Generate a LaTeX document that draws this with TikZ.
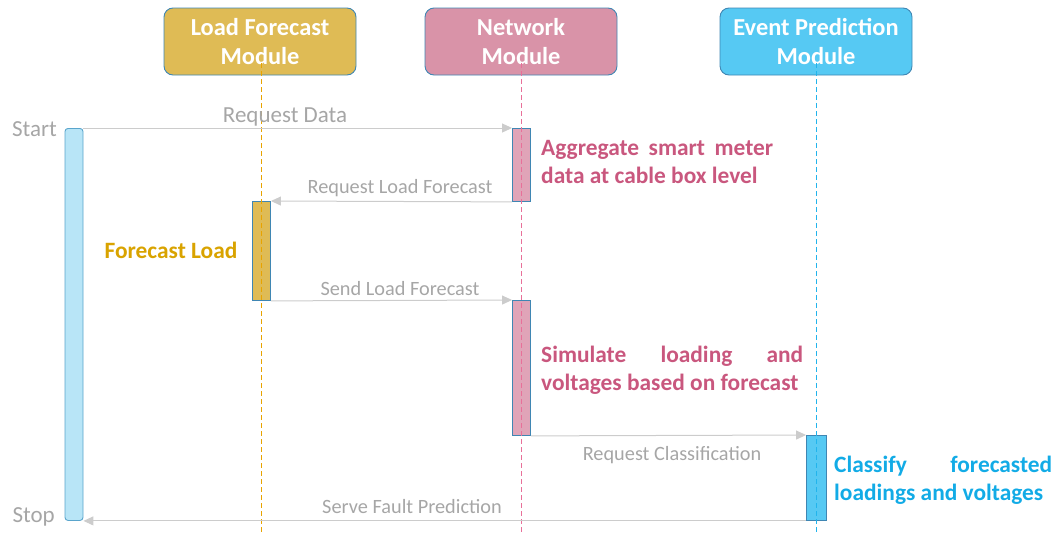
\documentclass[tikz,border=0pt]{standalone}
\usepackage{fontspec}
\setmainfont{Carlito}
\usetikzlibrary{arrows.meta}
\hyphenpenalty=10000
\exhyphenpenalty=10000
\definecolor{lfgold}{HTML}{DFBB55}
\definecolor{lfline}{HTML}{E8A300}
\definecolor{lftext}{HTML}{D9A300}
\definecolor{netpink}{HTML}{D993A8}
\definecolor{netact}{HTML}{E0A4B8}
\definecolor{netline}{HTML}{E87099}
\definecolor{nettext}{HTML}{C9577E}
\definecolor{epblue}{HTML}{56C9F3}
\definecolor{epline}{HTML}{22B4EC}
\definecolor{eptext}{HTML}{12ABE6}
\definecolor{startfill}{HTML}{B8E5F7}
\definecolor{startedge}{HTML}{5AA5CC}
\definecolor{edgeblue}{HTML}{3F86B3}
\definecolor{msggray}{HTML}{CCCCCC}
\definecolor{lblgray}{HTML}{A6A6A6}
\begin{document}
\begin{tikzpicture}[x=1pt,y=-1pt,
  header/.style={draw=edgeblue, line width=0.9pt, rounded corners=9pt,
    minimum width=192pt, minimum height=67pt, inner sep=0pt, text=white,
    font=\bfseries\fontsize{24.4}{29}\selectfont, align=center},
  act/.style={draw=edgeblue, line width=0.9pt, minimum width=18pt, inner sep=0pt},
  msg/.style={draw=msggray, line width=1pt, -{Triangle[length=10pt,width=9pt]}},
  msglabel/.style={text=lblgray, inner sep=0pt, font=\fontsize{20.3}{22}\selectfont},
  endlabel/.style={text=lblgray, inner sep=0pt, font=\fontsize{23}{26}\selectfont},
  note/.style={inner sep=0pt, align=justify, font=\bfseries\fontsize{23.4}{28}\selectfont},
  life/.style={line width=1.3pt, dash pattern=on 5pt off 3pt}
]
\useasboundingbox (0,0) rectangle (1056,533);

% module headers
\node[header, fill=lfgold] (lfh) at (260,41.5) {Load Forecast\\Module};
\node[header, fill=netpink] (neth) at (521,41.5) {Network\\Module};
\node[header, fill=epblue] (eph) at (816,41.5) {Event Prediction\\Module};

% activation bars
\node[act, draw=startedge, fill=startfill, rounded corners=3pt, minimum height=392pt, anchor=north] (start) at (74,128) {};
\node[act, fill=netact, minimum height=73pt, anchor=north] (na1) at (521.5,128) {};
\node[act, fill=lfgold, minimum height=99pt, anchor=north] (lf1) at (261.5,201) {};
\node[act, fill=netact, minimum height=135pt, anchor=north] (na2) at (521.5,300) {};
\node[act, fill=epblue, minimum width=20pt, minimum height=85pt, anchor=north] (ep1) at (816.5,435) {};

% lifelines
\coordinate (lfEnd) at (261.5,533);
\coordinate (netEnd) at (521.5,533);
\coordinate (epEnd) at (816.5,533);
\draw[life, draw=lfline] ([yshift=12pt]lfh.south -| lf1.center) -- (lfEnd);
\draw[life, draw=netline] ([yshift=12pt]neth.south -| na1.center) -- (netEnd);
\draw[life, draw=epline] ([yshift=12pt]eph.south -| ep1.center) -- (epEnd);

% messages
\draw[msg] (start.north east) -- (na1.north west);
\draw[msg] (na1.south west) -- (lf1.north east);
\draw[msg] (lf1.south east) -- (na2.north west);
\draw[msg] (na2.south east) -- (ep1.north west);
\draw[msg] (ep1.south west) -- (start.south east);

% message labels
\node[msglabel, font=\fontsize{23}{25}\selectfont] (lRD) at (285,117) {Request Data};
\node[msglabel] (lRLF) at (400,188) {Request Load Forecast};
\node[msglabel] (lSLF) at (400,289) {Send Load Forecast};
\node[msglabel] (lRC) at (672,455) {Request Classification};
\node[msglabel] (lSFP) at (412,507) {Serve Fault Prediction};

% start / stop
\node[endlabel, anchor=east] (tStart) at (57,129) {Start};
\node[endlabel, anchor=east] (tStop) at (55,517) {Stop};

% activity notes
\node[note, text=nettext, text width=232pt, anchor=north west] (nAgg) at (541,140) {Aggregate smart meter\linebreak data at cable box level};
\node[note, text=lftext, anchor=center] (nFL) at (171,250) {Forecast Load};
\node[note, text=nettext, text width=262pt, anchor=north west] (nSim) at (541,346) {Simulate loading and\linebreak voltages based on forecast};
\node[note, text=eptext, text width=218pt, anchor=north west] (nCls) at (834,456) {Classify forecasted\linebreak loadings and voltages};
\end{tikzpicture}
\end{document}
